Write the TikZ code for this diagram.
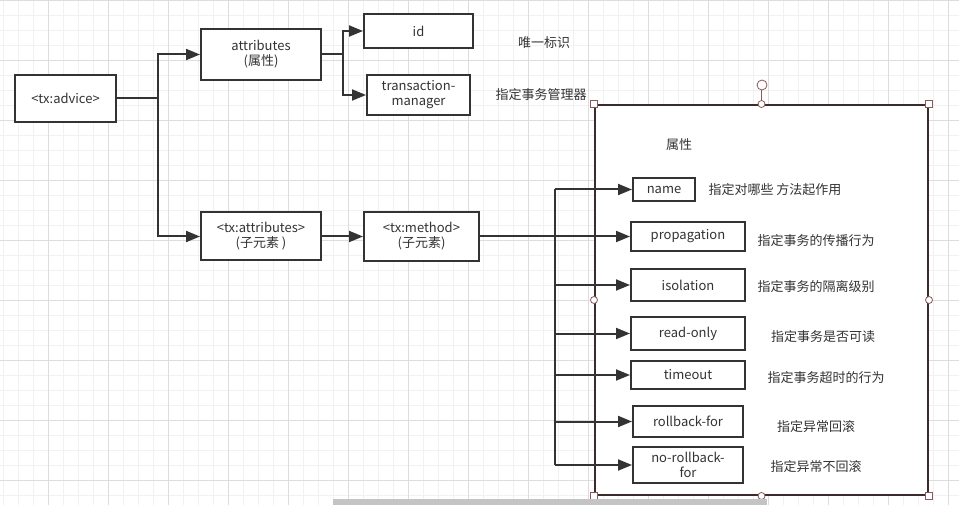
\documentclass[tikz,border=0pt]{standalone}
\usepackage{fontspec}
\setmainfont{Noto Sans CJK SC}
\usetikzlibrary{arrows.meta}
\definecolor{ink}{HTML}{333333}
\definecolor{framec}{HTML}{3B2B2F}
\definecolor{handlec}{HTML}{8A5A5A}
\definecolor{gridminor}{HTML}{F1F1F1}
\definecolor{gridmajor}{HTML}{DDDDDD}
\definecolor{scrollc}{HTML}{C4C4C4}
\tikzset{
  box/.style={draw=ink, line width=2pt, fill=white, align=center, text=ink,
    inner sep=0pt, font=\fontsize{13}{15}\selectfont},
  lbl/.style={text=ink, inner sep=0pt, font=\fontsize{13}{15}\selectfont},
  conn/.style={draw=ink, line width=2pt},
  arr/.style={conn, -{Triangle[length=14pt,width=11pt]}},
  handle/.style={draw=handlec, line width=0.8pt, fill=white},
}
\begin{document}
\begin{tikzpicture}[x=1pt,y=-1pt]
\path[use as bounding box, fill=white] (0,0) rectangle (959,505);
% grid
\foreach \i in {0,...,63} {\draw[gridminor, line width=0.6pt] (3.3+15*\i,0) -- (3.3+15*\i,505);}
\foreach \j in {0,...,33} {\draw[gridminor, line width=0.6pt] (0,15*\j) -- (959,15*\j);}
\foreach \i in {0,...,15} {\draw[gridmajor, line width=0.7pt] (48.3+60*\i,0) -- (48.3+60*\i,505);}
\foreach \j in {0,...,8} {\draw[gridmajor, line width=0.7pt] (0,60*\j) -- (959,60*\j);}
% big selected frame
\node[draw=framec, line width=2pt, fill=white, minimum width=333pt, minimum height=390pt, inner sep=0pt] (frame) at (761.5,300) {};
% left nodes
\node[box, minimum width=101pt, minimum height=47pt] (advice) at (65.5,98.5) {<tx:advice>};
\node[box, minimum width=120pt, minimum height=51pt] (attr) at (261,54.5) {attributes\\(属性)};
\node[box, minimum width=109pt, minimum height=34pt] (id) at (418.5,31) {id};
\node[box, minimum width=103pt, minimum height=40pt] (tm) at (418.5,95) {transaction-\\manager};
\node[box, minimum width=120pt, minimum height=48pt] (txattr) at (261,236.5) {<tx:attributes>\\(子元素 )};
\node[box, minimum width=115pt, minimum height=49pt] (method) at (421.5,236.5) {<tx:method>\\(子元素)};
\node[lbl] (l-id) at (544,43) {唯一标识};
\node[lbl] (l-tm) at (541,95) {指定事务管理器};
% inside frame
\node[lbl] (l-prop) at (679,145) {属性};
\node[box, minimum width=62pt, minimum height=23pt] (name) at (664,189.5) {name};
\node[box, minimum width=114pt, minimum height=29pt] (prop) at (688,236.5) {propagation};
\node[box, minimum width=114pt, minimum height=32pt] (iso) at (688,285) {isolation};
\node[box, minimum width=114pt, minimum height=33pt] (ro) at (688,333.5) {read-only};
\node[box, minimum width=114pt, minimum height=28pt] (to) at (688,375) {timeout};
\node[box, minimum width=110pt, minimum height=31pt] (rb) at (688,421.5) {rollback-for};
\node[box, minimum width=110pt, minimum height=36pt] (nrb) at (688,465) {no-rollback-\\for};
\node[lbl] (d-name) at (775,190) {指定对哪些 方法起作用};
\node[lbl] (d-prop) at (816,241) {指定事务的传播行为};
\node[lbl] (d-iso) at (816,287) {指定事务的隔离级别};
\node[lbl] (d-ro) at (823,337) {指定事务是否可读};
\node[lbl] (d-to) at (826,378) {指定事务超时的行为};
\node[lbl] (d-rb) at (816,427) {指定异常回滚};
\node[lbl] (d-nrb) at (816,467) {指定异常不回滚};
% connectors
\coordinate (j1) at (158,98.5);
\draw[conn] (advice.east) -- (j1);
\draw[arr] (j1) |- (attr.west);
\draw[arr] (j1) |- (txattr.west);
\coordinate (j2) at (343,54.5);
\draw[conn] (attr.east) -- (j2);
\draw[arr] (j2) |- (id.west);
\draw[arr] (j2) |- (tm.west);
\draw[arr] (txattr.east) -- (method.west);
\draw[arr] (method.east) -- (prop.west);
\coordinate (bt) at (555,189.5);
\coordinate (bb) at (555,465);
\draw[conn] (bt) -- (bb);
\draw[arr] (bt) -- (name.west);
\draw[arr] (bb |- iso.west) -- (iso.west);
\draw[arr] (bb |- ro.west) -- (ro.west);
\draw[arr] (bb |- to.west) -- (to.west);
\draw[arr] (bb |- rb.west) -- (rb.west);
\draw[arr] (bb) -- (nrb.west);
% selection handles
\draw[handlec, line width=0.8pt] (frame.north) -- ++(0,-15);
\node[handle, circle, minimum size=10pt, inner sep=0pt] (rot) at (762,85) {};
\foreach \a in {north, south, east, west} {\node[handle, circle, minimum size=7pt, inner sep=0pt] at (frame.\a) {};}
\foreach \a in {north east, north west, south east, south west} {\node[handle, rectangle, minimum size=7pt, inner sep=0pt] at (frame.\a) {};}
% scrollbar
\fill[scrollc] (333,499) rectangle (767,505);
\end{tikzpicture}
\end{document}
